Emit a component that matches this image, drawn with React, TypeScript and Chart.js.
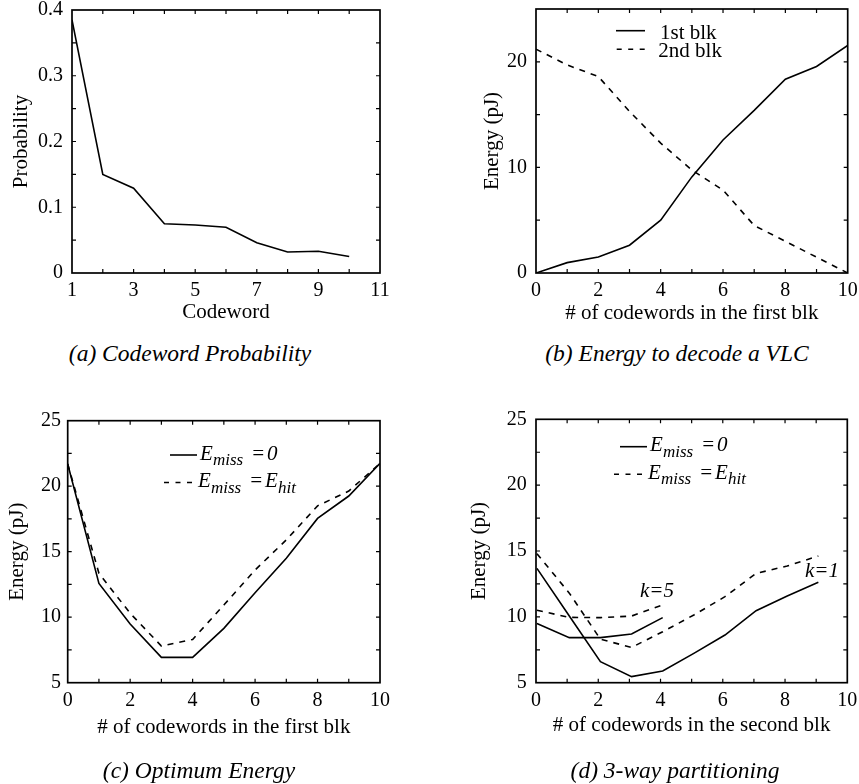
import React, { useEffect, useRef } from "react";
import { Chart, registerables } from "chart.js";

Chart.register(...registerables);

const SERIF = '"Liberation Serif", "Times New Roman", Times, serif';

// ---------- (a) Codeword Probability ----------
const codewords = [1, 2, 3, 4, 5, 6, 7, 8, 9, 10];
const codewordProbability = [0.385, 0.15, 0.129, 0.075, 0.073, 0.0695, 0.046, 0.032, 0.033, 0.025];
const aXTickLabels = [1, 3, 5, 7, 9, 11];
const aYTickLabels = [0, 0.1, 0.2, 0.3, 0.4];

// ---------- (b) Energy to decode a VLC ----------
const firstBlkCount = [0, 1, 2, 3, 4, 5, 6, 7, 8, 9, 10];
const energy1stBlk = [0, 0.98, 1.52, 2.63, 5.0, 9.1, 12.6, 15.4, 18.35, 19.56, 21.55];
const energy2ndBlk = [21.2, 19.7, 18.6, 15.3, 12.3, 9.75, 7.85, 4.5, 3.0, 1.5, 0];
const bXTickLabels = [0, 2, 4, 6, 8, 10];
const bYTickLabels = [0, 10, 20];

// ---------- (c) Optimum Energy ----------
const optCount = [0, 1, 2, 3, 4, 5, 6, 7, 8, 9, 10];
const optMissZero = [21.7, 12.58, 9.48, 6.93, 6.93, 9.15, 11.87, 14.5, 17.54, 19.25, 21.74];
const optMissHit = [21.7, 13.35, 10.3, 7.8, 8.3, 10.93, 13.6, 15.9, 18.5, 19.63, 21.74];
const cXTickLabels = [0, 2, 4, 6, 8, 10];
const cYTickLabels = [5, 10, 15, 20, 25];

// ---------- (d) 3-way partitioning ----------
const k5Count = [0.03, 1.07, 2.07, 3.07, 4.07];
const k5MissZero = [9.5, 8.42, 8.42, 8.7, 9.94];
const k5MissHit = [10.5, 9.96, 9.94, 10.06, 10.9];
const k1Count = [0.03, 1.07, 2.07, 3.07, 4.07, 5.07, 6.07, 7.07, 8.07, 9.07];
const k1MissZero = [13.68, 10.06, 6.6, 5.46, 5.89, 7.23, 8.62, 10.47, 11.58, 12.62];
const k1MissHit = [14.8, 11.8, 8.3, 7.68, 8.87, 10.14, 11.53, 13.3, 13.86, 14.62];
const dXTickLabels = [0, 2, 4, 6, 8, 10];
const dYTickLabels = [5, 10, 15, 20, 25];
const kAnnotations = [
  { text: "k=5", x: 3.34, y: 11.9 },
  { text: "k=1", x: 8.64, y: 13.43 },
];

const DASH = [6, 6];

function series(xs: number[], ys: number[], dashed: boolean) {
  return {
    data: xs.map((x, i) => ({ x, y: ys[i] })),
    borderColor: "#000",
    backgroundColor: "#000",
    borderWidth: 1.6,
    borderDash: dashed ? DASH : [],
    pointRadius: 0,
    fill: false,
    tension: 0,
  };
}

const frameTicks = {
  id: "frameTicks",
  afterDraw(chart: any) {
    const { ctx, chartArea } = chart;
    const { left, right, top, bottom } = chartArea;
    const xs = chart.scales.x;
    const ys = chart.scales.y;
    const L = 4;
    ctx.save();
    ctx.strokeStyle = "#000";
    ctx.setLineDash([]);
    ctx.lineWidth = 1.2;
    ctx.beginPath();
    xs.ticks.forEach((t: any) => {
      const p = xs.getPixelForValue(t.value);
      if (p <= left + 1 || p >= right - 1) return;
      ctx.moveTo(p, bottom);
      ctx.lineTo(p, bottom - L);
      ctx.moveTo(p, top);
      ctx.lineTo(p, top + L);
    });
    ys.ticks.forEach((t: any) => {
      const p = ys.getPixelForValue(t.value);
      if (p <= top + 1 || p >= bottom - 1) return;
      ctx.moveTo(left, p);
      ctx.lineTo(left + L, p);
      ctx.moveTo(right, p);
      ctx.lineTo(right - L, p);
    });
    ctx.stroke();
    ctx.lineWidth = 1.7;
    ctx.strokeRect(left, top, right - left, bottom - top);
    ctx.restore();
  },
};

function hasLabel(list: number[], v: number) {
  return list.some((l) => Math.abs(l - v) < 1e-6);
}

type Panel = {
  width: number;
  height: number;
  left: number;
  top: number;
  datasets: any[];
  x: { min: number; max: number; step: number; labels: number[]; title: string; height: number };
  y: { min: number; max: number; step: number; labels: number[]; title: string; width: number; pad: number };
  padding: { left: number; right: number; top: number; bottom: number };
  extra?: (chart: any) => void;
};

function drawSolid(ctx: any, x1: number, x2: number, y: number) {
  ctx.save();
  ctx.setLineDash([]);
  ctx.lineWidth = 1.6;
  ctx.strokeStyle = "#000";
  ctx.beginPath();
  ctx.moveTo(x1, y);
  ctx.lineTo(x2, y);
  ctx.stroke();
  ctx.restore();
}
function drawDashed(ctx: any, x1: number, x2: number, y: number) {
  ctx.save();
  ctx.setLineDash([5, 6.5]);
  ctx.lineWidth = 1.6;
  ctx.strokeStyle = "#000";
  ctx.beginPath();
  ctx.moveTo(x1, y);
  ctx.lineTo(x2, y);
  ctx.stroke();
  ctx.restore();
}
function txt(ctx: any, s: string, x: number, y: number, size: number, italic: boolean) {
  ctx.save();
  ctx.fillStyle = "#000";
  ctx.font = `${italic ? "italic " : ""}${size}px ${SERIF}`;
  ctx.textAlign = "left";
  ctx.textBaseline = "alphabetic";
  ctx.fillText(s, x, y);
  ctx.restore();
}

function mathLegend(ctx: any, ox: number, oy: number) {
  // row 1: E_miss = 0
  drawSolid(ctx, ox, ox + 27, oy);
  txt(ctx, "E", ox + 30, oy + 4.5, 21, true);
  txt(ctx, "miss", ox + 43, oy + 10, 17, true);
  txt(ctx, "=", ox + 81, oy + 4.5, 21, true);
  txt(ctx, "0", ox + 97, oy + 4.5, 21, true);
  // row 2: E_miss = E_hit
  const r = oy + 27.5;
  drawDashed(ctx, ox - 6, ox + 23, r);
  txt(ctx, "E", ox + 28, r + 4.5, 21, true);
  txt(ctx, "miss", ox + 41, r + 10, 17, true);
  txt(ctx, "=", ox + 79, r + 4.5, 21, true);
  txt(ctx, "E", ox + 95, r + 4.5, 21, true);
  txt(ctx, "hit", ox + 108, r + 10, 17, true);
}

const panels: Panel[] = [
  {
    width: 430,
    height: 330,
    left: 0,
    top: 0,
    datasets: [series(codewords, codewordProbability, false)],
    x: { min: 1, max: 11, step: 1, labels: aXTickLabels, title: "Codeword", height: 49.5 },
    y: { min: 0, max: 0.4, step: 0.05, labels: aYTickLabels, title: "Probability", width: 61.5, pad: 9 },
    padding: { left: 10.5, right: 50, top: 10, bottom: 7.5 },
  },
  {
    width: 429,
    height: 330,
    left: 430,
    top: 0,
    datasets: [series(firstBlkCount, energy1stBlk, false), series(firstBlkCount, energy2ndBlk, true)],
    x: { min: 0, max: 10, step: 1, labels: bXTickLabels, title: "# of codewords in the first blk", height: 50.8 },
    y: { min: 0, max: 25, step: 5, labels: bYTickLabels, title: "Energy (pJ)", width: 53.8, pad: 9 },
    padding: { left: 52.2, right: 11.3, top: 9, bottom: 6.2 },
    extra: (chart: any) => {
      const { ctx, chartArea } = chart;
      const ox = chartArea.left + 80;
      const oy = chartArea.top + 21.7;
      drawSolid(ctx, ox, ox + 29, oy);
      txt(ctx, "1st blk", ox + 44, oy + 7.8, 21, false);
      drawDashed(ctx, ox + 0.7, ox + 29, oy + 18.6);
      txt(ctx, "2nd blk", ox + 42.3, oy + 26, 21, false);
    },
  },
  {
    width: 430,
    height: 384,
    left: 0,
    top: 400,
    datasets: [series(optCount, optMissZero, false), series(optCount, optMissHit, true)],
    x: { min: 0, max: 10, step: 1, labels: cXTickLabels, title: "# of codewords in the first blk", height: 55.1 },
    y: { min: 5, max: 25, step: 2.5, labels: cYTickLabels, title: "Energy (pJ)", width: 60.9, pad: 6.7 },
    padding: { left: 6.8, right: 50, top: 20.7, bottom: 46.2 },
    extra: (chart: any) => {
      const { ctx, chartArea } = chart;
      mathLegend(ctx, chartArea.left + 102.3, chartArea.top + 34.3);
    },
  },
  {
    width: 429,
    height: 384,
    left: 430,
    top: 400,
    datasets: [
      series(k5Count, k5MissZero, false),
      series(k5Count, k5MissHit, true),
      series(k1Count, k1MissZero, false),
      series(k1Count, k1MissHit, true),
    ],
    x: { min: 0, max: 10, step: 1, labels: dXTickLabels, title: "# of codewords in the second blk", height: 52.8 },
    y: { min: 5, max: 25, step: 2.5, labels: dYTickLabels, title: "Energy (pJ)", width: 67.2, pad: 9.3 },
    padding: { left: 38.8, right: 11.7, top: 19.3, bottom: 48.5 },
    extra: (chart: any) => {
      const { ctx, chartArea, scales } = chart;
      mathLegend(ctx, chartArea.left + 84, chartArea.top + 27.4);
      kAnnotations.forEach((a) => {
        ctx.save();
        ctx.fillStyle = "#000";
        ctx.font = `italic 21px ${SERIF}`;
        ctx.textAlign = "left";
        ctx.textBaseline = "middle";
        ctx.fillText(a.text, scales.x.getPixelForValue(a.x), scales.y.getPixelForValue(a.y));
        ctx.restore();
      });
    },
  },
];

function makeConfig(p: Panel): any {
  const tickFont = { family: SERIF, size: 20, lineHeight: 1 };
  const titleFont = { family: SERIF, size: 21, lineHeight: 1 };
  const zeroPad = (s: any) => {
    s.paddingLeft = 0;
    s.paddingRight = 0;
    s.paddingTop = 0;
    s.paddingBottom = 0;
  };
  return {
    type: "line",
    data: { datasets: p.datasets },
    options: {
      animation: false,
      responsive: false,
      devicePixelRatio: 1,
      layout: { padding: p.padding },
      plugins: { legend: { display: false }, tooltip: { enabled: false } },
      scales: {
        x: {
          type: "linear",
          min: p.x.min,
          max: p.x.max,
          grid: { display: false, drawTicks: false },
          border: { display: false },
          ticks: {
            stepSize: p.x.step,
            autoSkip: false,
            maxRotation: 0,
            padding: 8,
            color: "#000",
            font: tickFont,
            callback: (v: number) => (hasLabel(p.x.labels, v) ? String(v) : ""),
          },
          title: { display: true, text: p.x.title, color: "#000", font: titleFont, padding: 0 },
          afterFit: (s: any) => {
            s.height = p.x.height;
            zeroPad(s);
          },
        },
        y: {
          type: "linear",
          min: p.y.min,
          max: p.y.max,
          grid: { display: false, drawTicks: false },
          border: { display: false },
          ticks: {
            stepSize: p.y.step,
            autoSkip: false,
            padding: p.y.pad,
            color: "#000",
            font: tickFont,
            callback: (v: number) => {
              const l = p.y.labels.find((q) => Math.abs(q - v) < 1e-6);
              return l === undefined ? "" : String(l);
            },
          },
          title: { display: true, text: p.y.title, color: "#000", font: titleFont, padding: 0 },
          afterFit: (s: any) => {
            s.width = p.y.width;
            zeroPad(s);
          },
        },
      },
    },
    plugins: [
      frameTicks,
      {
        id: "extras",
        afterDraw(chart: any) {
          if (p.extra) p.extra(chart);
        },
      },
    ],
  };
}

function PanelChart({ p }: { p: Panel }) {
  const ref = useRef<HTMLCanvasElement>(null);
  useEffect(() => {
    if (!ref.current) return;
    const chart = new Chart(ref.current, makeConfig(p));
    return () => chart.destroy();
  }, [p]);
  return (
    <canvas
      ref={ref}
      width={p.width}
      height={p.height}
      style={{ position: "absolute", left: p.left, top: p.top, width: p.width, height: p.height }}
    />
  );
}

const captions = [
  { text: "(a) Codeword Probability", cx: 190, cy: 354 },
  { text: "(b) Energy to decode a VLC", cx: 677, cy: 354 },
  { text: "(c) Optimum Energy", cx: 199, cy: 771 },
  { text: "(d) 3-way partitioning", cx: 675, cy: 771 },
];

export default function App() {
  return (
    <div
      style={{
        position: "absolute",
        left: 0,
        top: 0,
        width: 859,
        height: 784,
        background: "#fff",
        overflow: "hidden",
      }}
    >
      {panels.map((p, i) => (
        <PanelChart key={i} p={p} />
      ))}
      {captions.map((c, i) => (
        <div
          key={i}
          style={{
            position: "absolute",
            left: c.cx,
            top: c.cy,
            transform: "translate(-50%, -50%)",
            whiteSpace: "nowrap",
            fontFamily: SERIF,
            fontStyle: "italic",
            fontSize: 23.5,
            lineHeight: 1,
            color: "#000",
          }}
        >
          {c.text}
        </div>
      ))}
    </div>
  );
}
